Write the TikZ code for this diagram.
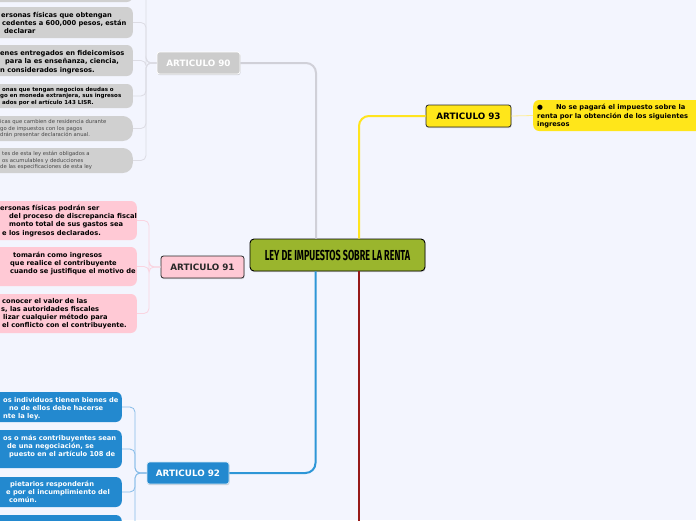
\documentclass[tikz,border=0pt]{standalone}
\usepackage{fontspec}
\setmainfont{DejaVu Sans}
\newfontfamily\titlefont[FakeStretch=0.62]{Fira Sans}
\usetikzlibrary{shadows}
\definecolor{bg}{RGB}{243,245,254}
\definecolor{gnode}{RGB}{204,204,204}
\definecolor{gchild}{RGB}{208,208,208}
\definecolor{gtext}{RGB}{70,70,70}
\definecolor{gline}{RGB}{208,208,216}
\definecolor{gbrk}{RGB}{220,220,228}
\definecolor{pnode}{RGB}{255,201,213}
\definecolor{pbrk}{RGB}{250,212,224}
\definecolor{bnode}{RGB}{35,137,207}
\definecolor{bline}{RGB}{45,150,215}
\definecolor{bbrk}{RGB}{135,188,232}
\definecolor{ynode}{RGB}{255,230,26}
\definecolor{yline}{RGB}{255,228,30}
\definecolor{ybrk}{RGB}{255,238,150}
\definecolor{rline}{RGB}{150,25,25}
\definecolor{cgreen}{RGB}{154,181,45}
\definecolor{dk}{RGB}{40,40,40}
\begin{document}
\begin{tikzpicture}[x=1pt,y=-1pt,
  every node/.style={inner sep=0pt},
  shad/.style={drop shadow={opacity=0.3,shadow xshift=0.5pt,shadow yshift=-1.2pt}},
  art/.style={rounded corners=2.5pt, line width=0.8pt, minimum height=22pt,
    font=\bfseries\fontsize{8.8}{10}\selectfont, shad},
  centre/.style={draw=black, line width=0.9pt, fill=cgreen, rounded corners=4pt,
    minimum width=175pt, minimum height=32pt, shad},
  cbox/.style={rounded corners=6pt, anchor=east, minimum width=220pt},
  tb/.style={anchor=base west, font=\bfseries\fontsize{6.7}{8}\selectfont},
  ts/.style={anchor=base west, font=\bfseries\fontsize{5.5}{7}\selectfont},
  tr/.style={anchor=base west, font=\fontsize{5.3}{6.5}\selectfont, text=gtext},
  mainline/.style={line width=2pt, rounded corners=10pt},
  brk/.style={line width=0.8pt, rounded corners=5pt}
]
\fill[bg] (0,0) rectangle (696,520);
\useasboundingbox (0,0) rectangle (696,520);
\clip (0,0) rectangle (696,520);

% central and article nodes
\node[centre] (c) at (337.5,255) {\titlefont\bfseries\fontsize{14.5}{16}\selectfont LEY DE IMPUESTOS SOBRE LA RENTA};
\node[art, fill=gnode, draw=white, text=white, minimum width=83pt] (a90) at (198.5,63) {ARTICULO 90};
\node[art, fill=pnode, draw=dk, text=dk, minimum width=83pt] (a91) at (202.5,267) {ARTICULO 91};
\node[art, fill=bnode, draw=white!80!bnode, text=white, minimum width=82pt] (a92) at (188,473) {ARTICULO 92};
\node[art, fill=ynode, draw=dk, text=black, minimum width=85pt] (a93) at (468.5,116) {ARTICULO 93};

% child boxes ARTICULO 90
\node[cbox, fill=gchild, minimum height=27pt] (g1) at (133,-11.5) {};
\node[cbox, fill=gchild, minimum height=31pt] (g2) at (133,22.5) {};
\node[cbox, fill=gchild, minimum height=31pt] (g3) at (133,60.5) {};
\node[cbox, fill=gchild, minimum height=24pt] (g4) at (133,96) {};
\node[cbox, fill=gchild, minimum height=25pt, rounded corners=10pt] (g5) at (133,128.5) {};
\node[cbox, fill=gchild, minimum height=25pt, rounded corners=10pt] (g6) at (133,160.5) {};
% child boxes ARTICULO 91
\node[cbox, fill=pnode, minimum height=39pt] (p1) at (137,220.5) {};
\node[cbox, fill=pnode, minimum height=39pt] (p2) at (137,266.5) {};
\node[cbox, fill=pnode, minimum height=39pt] (p3) at (137,313.5) {};
% child boxes ARTICULO 92
\node[cbox, fill=bnode, minimum height=30pt] (b1) at (122,407) {};
\node[cbox, fill=bnode, minimum height=38pt] (b2) at (122,449) {};
\node[cbox, fill=bnode, minimum height=30pt] (b3) at (122,492) {};
\node[cbox, fill=bnode, minimum height=30pt] (b4) at (122,530) {};
% child box ARTICULO 93
\node[cbox, anchor=west, fill=ynode, minimum height=31pt] (y1) at (533,115.5) {};

% main connectors
\coordinate (redend) at (359,530);
\draw[mainline, gline] ([xshift=-21.5pt]c.north) |- (a90.east);
\draw[mainline, yline] ([xshift=21.5pt]c.north) |- (a93.west);
\draw[mainline, bline] ([xshift=-22pt]c.south) |- (a92.east);
\draw[line width=2pt, rline] (c.south -| redend) -- (redend);

% brackets
\foreach \n in {g1,g2,g3,g4,g5,g6}
  \draw[brk, gbrk] (a90.west) -| ([xshift=13pt]\n.east) -- (\n.east);
\foreach \n in {p1,p2,p3}
  \draw[brk, pbrk] (a91.west) -| ([xshift=12pt]\n.east) -- (\n.east);
\foreach \n in {b1,b2,b3,b4}
  \draw[brk, bbrk] (a92.west) -| ([xshift=13pt]\n.east) -- (\n.east);
\draw[line width=0.8pt, ybrk] (a93.east) -- (y1.west);

% texts ARTICULO 90
\node[tb] (g2a) at (1,17.2) {ersonas físicas que obtengan};
\node[tb] (g2b) at (2,25.2) {cedentes a 600,000 pesos, están};
\node[tb] (g2c) at (4,33.2) {declarar};
\node[tb] (g3a) at (0,55.2) {enes entregados en fideicomisos};
\node[tb] (g3b) at (5,63.7) {para la es enseñanza, ciencia,};
\node[tb] (g3c) at (0,72.2) {n considerados ingresos.};
\node[ts] (g4a) at (2,91.3) {onas que tengan negocios deudas o};
\node[ts] (g4b) at (0,97.8) {go en moneda extranjera, sus ingresos};
\node[ts] (g4c) at (2,104.3) {ados por el artículo 143 LISR.};
\node[tr] (g5a) at (0,123.8) {icas que cambien de residencia durante};
\node[tr] (g5b) at (0,130.1) {go de impuestos con los pagos};
\node[tr] (g5c) at (0,136.4) {drán presentar declaración anual.};
\node[tr] (g6a) at (2,155.8) {tes de esta ley están obligados a};
\node[tr] (g6b) at (2,162.3) {os acumulables y deducciones};
\node[tr] (g6c) at (0,168.8) {de las especificaciones de esta ley};
% texts ARTICULO 91
\node[tb] (p1a) at (0,210.2) {ersonas físicas podrán ser};
\node[tb] (p1b) at (9,218.5) {del proceso de discrepancia fiscal};
\node[tb] (p1c) at (9,226.8) {monto total de sus gastos sea};
\node[tb] (p1d) at (2,235.2) {e los ingresos declarados.};
\node[tb] (p2a) at (13,257.2) {tomarán como ingresos};
\node[tb] (p2b) at (10,265.2) {que realice el contribuyente};
\node[tb] (p2c) at (10,273.2) {cuando se justifique el motivo de};
\node[tb] (p3a) at (2,303.2) {conocer el valor de las};
\node[tb] (p3b) at (1,311.2) {s, las autoridades fiscales};
\node[tb] (p3c) at (3,319.2) {lizar cualquier método para};
\node[tb] (p3d) at (2,327.7) {el conflicto con el contribuyente.};
% texts ARTICULO 92
\node[tb, text=white] (b1a) at (3,402.2) {os individuos tienen bienes de};
\node[tb, text=white] (b1b) at (9,410.2) {no de ellos debe hacerse};
\node[tb, text=white] (b1c) at (3,418.7) {nte la ley.};
\node[tb, text=white] (b2a) at (3,440.2) {os o más contribuyentes sean};
\node[tb, text=white] (b2b) at (7,448.2) {de una negociación, se};
\node[tb, text=white] (b2c) at (9,456.2) {puesto en el artículo 108 de};
\node[tb, text=white] (b3a) at (10,486.2) {pietarios responderán};
\node[tb, text=white] (b3b) at (6,494.2) {e por el incumplimiento del};
\node[tb, text=white] (b3c) at (9,502.2) {común.};
% text ARTICULO 93
\node[tb] (y1a) at (537,109.7) {●\hspace{13pt}No se pagará el impuesto sobre la};
\node[tb] (y1b) at (537,118.2) {renta por la obtención de los siguientes};
\node[tb] (y1c) at (537,126.7) {ingresos};
\end{tikzpicture}
\end{document}
